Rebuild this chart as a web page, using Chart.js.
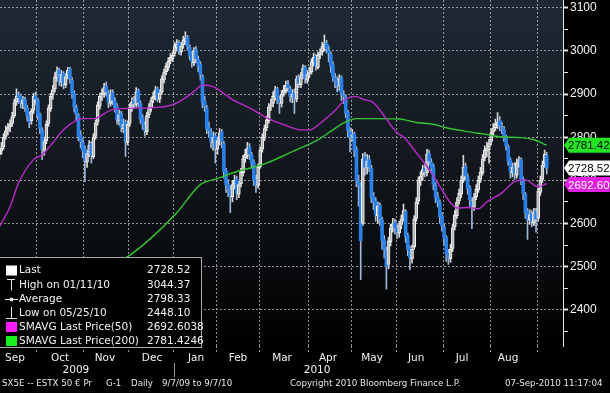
<!DOCTYPE html>
<html><head><meta charset="utf-8">
<script src="https://cdn.jsdelivr.net/npm/chart.js@4.4.1/dist/chart.umd.min.js"></script>
<style>html,body{margin:0;padding:0;background:#000;overflow:hidden}#wrap{position:relative;width:610px;height:393px}</style>
</head><body><div id="wrap"><canvas id="c" width="610" height="393"></canvas></div>
<script>
// ---- DATA (SX5E daily, 9/7/09 .. 9/7/10; index = trading day) ----
const opens = [2760,2768,2778,2802,2816,2824,2832,2850,2882,2898,
2894,2878,2888,2868,2852,2838,2862,2896,2886,2852,
2818,2770,2792,2832,2866,2898,2912,2938,2955,2928,
2948,2922,2942,2958,2932,2902,2868,2850,2805,2788,
2772,2742,2765,2785,2755,2802,2835,2872,2898,2900,
2918,2902,2878,2903,2884,2872,2838,2855,2820,2835,
2788,2832,2868,2885,2876,2908,2878,2845,2828,2812,
2852,2868,2888,2893,2912,2888,2905,2932,2952,2962,
2978,2982,2994,3008,3018,2998,3014,3022,3032,3008,
2992,2972,3003,2980,2968,2940,2884,2868,2822,2812,
2788,2803,2772,2795,2812,2785,2722,2692,2678,2662,
2692,2703,2668,2692,2718,2752,2758,2778,2758,2742,
2702,2688,2732,2772,2798,2822,2838,2872,2878,2892,
2912,2888,2878,2902,2908,2922,2912,2893,2903,2888,
2938,2922,2942,2962,2932,2948,2952,2972,2988,2962,
2992,2998,3008,3018,3002,2992,2968,2938,2932,2918,
2938,2898,2892,2858,2812,2802,2808,2772,2698,2688,
2600,2755,2728,2748,2728,2662,2652,2618,2642,2608,
2562,2538,2505,2558,2592,2602,2588,2578,2598,2612,
2628,2572,2542,2518,2545,2612,2652,2698,2712,2728,
2718,2762,2742,2732,2688,2662,2648,2618,2592,2568,
2532,2518,2542,2592,2618,2652,2668,2702,2732,2708,
2682,2652,2638,2662,2678,2702,2718,2752,2768,2778,
2790,2812,2822,2828,2838,2822,2818,2798,2778,2748,
2718,2732,2712,2742,2748,2702,2668,2628,2608,2622,
2602,2628,2612,2672,2702,2738,2758];
const highs = [2782,2788,2808,2826,2832,2840,2858,2888,2912,2905,
2900,2895,2893,2874,2858,2866,2902,2905,2890,2856,
2822,2800,2838,2875,2902,2920,2950,2963,2960,2955,
2952,2948,2962,2962,2938,2908,2875,2855,2815,2798,
2780,2770,2792,2790,2808,2840,2882,2902,2912,2925,
2928,2908,2910,2910,2892,2878,2862,2860,2842,2840,
2838,2878,2892,2895,2915,2912,2884,2852,2836,2858,
2878,2892,2905,2918,2916,2910,2942,2958,2972,2984,
2994,2998,3020,3026,3024,3020,3034,3044.37,3036,3014,
2998,3008,3010,2988,2975,2945,2895,2874,2835,2820,
2812,2810,2800,2820,2818,2790,2728,2702,2688,2700,
2712,2710,2698,2728,2758,2772,2788,2785,2765,2748,
2712,2738,2778,2808,2828,2848,2878,2888,2905,2918,
2916,2896,2908,2920,2930,2932,2918,2910,2912,2942,
2945,2950,2968,2966,2955,2962,2982,2995,2992,2998,
3005,3020,3037,3025,3012,2998,2975,2948,2940,2945,
2942,2908,2898,2862,2822,2818,2812,2778,2712,2695,
2762,2765,2760,2758,2735,2672,2660,2650,2648,2615,
2572,2545,2568,2598,2612,2610,2598,2605,2620,2645,
2632,2578,2548,2550,2618,2660,2708,2720,2735,2740,
2772,2770,2750,2738,2695,2672,2655,2625,2598,2572,
2540,2552,2598,2630,2660,2680,2710,2758,2740,2715,
2688,2660,2670,2690,2710,2730,2760,2780,2788,2795,
2820,2832,2842,2857,2848,2835,2825,2805,2782,2752,
2740,2742,2750,2755,2752,2708,2672,2635,2632,2630,
2635,2635,2682,2710,2745,2770,2765];
const lows = [2748,2760,2772,2795,2805,2812,2825,2845,2874,2878,
2868,2866,2860,2838,2822,2830,2855,2876,2840,2808,
2748,2758,2785,2825,2860,2888,2905,2930,2920,2918,
2912,2915,2935,2925,2890,2858,2838,2792,2775,2752,
2697,2730,2755,2740,2750,2795,2828,2865,2885,2892,
2895,2868,2872,2875,2858,2830,2828,2812,2810,2755,
2782,2825,2860,2866,2870,2870,2832,2818,2802,2806,
2845,2860,2880,2886,2882,2880,2900,2926,2945,2955,
2970,2975,2988,3000,2992,2990,3006,3015,3002,2980,
2962,2966,2972,2952,2932,2868,2860,2808,2800,2775,
2770,2740,2760,2782,2775,2705,2672,2662,2625,2650,
2680,2655,2660,2685,2710,2742,2750,2748,2728,2688,
2672,2682,2728,2765,2792,2815,2832,2862,2870,2886,
2878,2855,2870,2895,2902,2905,2882,2880,2855,2882,
2915,2915,2935,2925,2925,2938,2946,2965,2955,2958,
2982,2990,3000,2995,2975,2950,2930,2915,2905,2908,
2885,2878,2845,2800,2766,2790,2755,2685,2640,2470,
2595,2712,2715,2720,2648,2632,2605,2600,2595,2540,
2520,2448.1,2495,2548,2580,2575,2565,2568,2588,2605,
2556,2525,2493,2508,2540,2605,2645,2688,2700,2708,
2710,2735,2718,2678,2648,2638,2600,2582,2550,2512,
2505,2510,2535,2585,2612,2645,2660,2695,2700,2668,
2640,2588,2630,2655,2672,2695,2712,2745,2755,2740,
2782,2805,2815,2820,2815,2808,2790,2770,2735,2705,
2708,2702,2705,2730,2690,2655,2612,2563,2598,2592,
2595,2580,2605,2665,2695,2730,2715];
const closes = [2770,2775,2800,2815,2822,2830,2848,2880,2895,2892,
2880,2886,2870,2850,2835,2860,2895,2888,2850,2820,
2772,2790,2830,2868,2895,2910,2940,2952,2930,2946,
2924,2940,2955,2935,2900,2870,2852,2802,2790,2768,
2745,2762,2782,2758,2800,2832,2875,2895,2902,2915,
2905,2880,2900,2886,2870,2840,2852,2822,2830,2790,
2830,2870,2882,2878,2905,2880,2842,2830,2815,2850,
2870,2885,2895,2910,2890,2902,2935,2950,2965,2976,
2985,2990,3010,3016,3000,3012,3025,3030,3010,2990,
2975,3000,2982,2965,2945,2880,2872,2820,2815,2790,
2800,2775,2792,2810,2790,2720,2690,2680,2665,2690,
2700,2670,2690,2720,2750,2760,2775,2760,2740,2700,
2690,2730,2770,2800,2820,2840,2870,2875,2895,2910,
2890,2880,2900,2910,2920,2915,2895,2900,2890,2935,
2925,2940,2960,2935,2945,2950,2975,2985,2965,2990,
2995,3010,3015,3005,2995,2965,2940,2930,2920,2935,
2900,2895,2855,2815,2800,2805,2770,2700,2690,2560,
2750,2730,2745,2730,2660,2650,2620,2640,2610,2560,
2540,2500,2560,2590,2600,2590,2580,2595,2610,2630,
2570,2540,2520,2540,2610,2650,2700,2710,2725,2720,
2760,2745,2730,2690,2660,2650,2615,2595,2565,2530,
2520,2540,2590,2620,2650,2670,2700,2730,2710,2680,
2655,2640,2660,2680,2700,2720,2750,2770,2775,2785,
2810,2820,2830,2835,2825,2820,2800,2780,2745,2720,
2730,2715,2740,2745,2700,2670,2625,2610,2620,2605,
2625,2610,2675,2700,2735,2760,2728.52];

const ma50Days = [0,5,9,16,20,25,30,34,39,44,53,69,81,87,92,95,100,104,109,117,125,133,141,145,151,156,163,167,170,175,181,186,189,195,201,206,211,214,219,224,228,235,241,246,252,256];
const ma50 = [2592,2639,2694,2748,2759,2787,2817,2833,2843,2843,2864,2868,2875,2891,2910,2921,2917,2905,2887,2868,2845,2829,2817,2817,2836,2857,2891,2894,2888,2880,2842,2810,2801,2764,2725,2686,2648,2636,2637,2634,2650,2671,2697,2701,2685,2692.60];
const ma200Days = [0,16,32,47,60,70,83,94,102,109,119,125,135,141,149,156,161,167,175,187,195,203,209,219,228,234,244,250,256];
const ma200 = [2381,2407,2446,2488,2523,2562,2625,2690,2704,2717,2731,2740,2762,2775,2794,2817,2833,2843,2843,2842,2834,2830,2822,2813,2806,2801,2799,2794,2781.42];

// axis labels
const monthLabels = ['Sep','Oct','Nov','Dec','Jan','Feb','Mar','Apr','May','Jun','Jul','Aug'];
const monthLabelPos = [7.3,28.4,49.4,71.4,92,111.6,132.2,153.7,174.3,194.9,216.4,237.9];
const monthBoundaries = [17.5,39.5,60.5,81.5,101.5,121.5,144.5,164.5,185.5,207.5,229.5,251.5];
const yearLabels = ['2009','2010'];
const yearLabelPos = [35.8,148.6];
const yearSeparator = 81.5;
const yTickValues = [2350,2400,2450,2500,2550,2600,2650,2700,2750,2800,2850,2900,2950,3000,3050,3100];

// legend texts
const legendLabels = ['Last','High on 01/11/10','Average','Low on 05/25/10','SMAVG Last Price(50)','SMAVG Last Price(200)'];
const legendValues = ['2728.52','3044.37','2798.33','2448.10','2692.6038','2781.4246'];
const footerTexts = ['SX5E -- ESTX 50 \u20ac Pr','G-1','Daily','9/7/09 to 9/7/10','Copyright 2010 Bloomberg Finance L.P.','07-Sep-2010 11:17:04'];

// ---- STYLE ----
const BLUE = '#2b80e6', UPFILL = '#b4b4b4', UPEDGE = '#f4f4f4';
const MAG_LINE = '#b92ccb', GRN_LINE = '#33c433';
const GRID = 'rgba(180,180,180,0.8)';
const isDown = i => closes[i] < opens[i];

const candleIdx = closes.map((_, i) => i);

const bg = {
  id: 'bg',
  beforeDraw(chart) {
    const {ctx, chartArea: a} = chart;
    ctx.save();
    ctx.fillStyle = '#000'; ctx.fillRect(0, 0, chart.width, chart.height);
    const g = ctx.createLinearGradient(0, a.top, 0, a.bottom);
    g.addColorStop(0, '#1f2935'); g.addColorStop(0.5, '#11161c'); g.addColorStop(1, '#000000');
    ctx.fillStyle = g; ctx.fillRect(a.left, a.top, a.right - a.left, a.bottom - a.top);
    ctx.restore();
  }
};

function tag(ctx, x0, x1, y, text, bgc, fg) {
  const h = 15;
  ctx.beginPath();
  ctx.moveTo(x0, y); ctx.lineTo(x0 + 5, y - h / 2); ctx.lineTo(x1, y - h / 2);
  ctx.lineTo(x1, y + h / 2); ctx.lineTo(x0 + 5, y + h / 2); ctx.closePath();
  ctx.fillStyle = bgc; ctx.fill();
  ctx.fillStyle = fg; ctx.textAlign = 'left'; ctx.textBaseline = 'middle';
  ctx.font = '11.5px "Liberation Sans", Arial, sans-serif';
  ctx.fillText(text, x0 + 4, y + 1);
}

const overlay = {
  id: 'overlay',
  afterDraw(chart) {
    const {ctx, chartArea: a, scales} = chart;
    const xs = scales.x, ys = scales.y;
    ctx.save();
    // legend box
    const L = {x: 0, y: 257, w: 202, h: 90};
    ctx.fillStyle = '#000'; ctx.fillRect(L.x, L.y, L.w, L.h);
    ctx.strokeStyle = '#a8a8a8'; ctx.lineWidth = 1;
    ctx.strokeRect(L.x - 1 + 0.5, L.y + 0.5, L.w, L.h);
    const rows = [270.5, 285, 299, 313, 327, 341];
    ctx.font = '10.5px "DejaVu Sans", sans-serif';
    ctx.textBaseline = 'middle'; ctx.textAlign = 'left';
    rows.forEach((ry, k) => {
      ctx.fillStyle = '#f2f2f2';
      ctx.fillText(legendLabels[k], 19, ry);
      ctx.fillText(legendValues[k], 147, ry);
    });
    // icons
    ctx.fillStyle = '#ffffff'; ctx.fillRect(6, rows[0] - 5, 11, 10);
    ctx.strokeStyle = '#e8e8e8'; ctx.lineWidth = 1;
    ctx.beginPath(); ctx.moveTo(7, rows[1] - 5.5); ctx.lineTo(15, rows[1] - 5.5);
    ctx.moveTo(11.5, rows[1] - 5.5); ctx.lineTo(11.5, rows[1] + 5.5); ctx.stroke();
    ctx.beginPath(); ctx.moveTo(5, rows[2] + 0.5); ctx.lineTo(18, rows[2] + 0.5); ctx.stroke();
    ctx.beginPath(); ctx.arc(11.5, rows[2] + 0.5, 2, 0, Math.PI * 2); ctx.fillStyle = '#e8e8e8'; ctx.fill();
    ctx.beginPath(); ctx.moveTo(11.5, rows[3] - 6); ctx.lineTo(11.5, rows[3] + 5.5);
    ctx.moveTo(6, rows[3] + 5.5); ctx.lineTo(17, rows[3] + 5.5); ctx.stroke();
    ctx.fillStyle = '#ff1cff'; ctx.fillRect(6, rows[4] - 5, 11, 10);
    ctx.fillStyle = '#1cf01c'; ctx.fillRect(6, rows[5] - 5, 11, 10);

    // right-hand value tags
    const x0 = a.right + 1, x1 = chart.width;
    tag(ctx, x0, x1, ys.getPixelForValue(ma200[ma200.length - 1]), ma200[ma200.length - 1].toFixed(2), '#22e622', '#000');
    tag(ctx, x0, x1, ys.getPixelForValue(closes[closes.length - 1]), closes[closes.length - 1].toFixed(2), '#ffffff', '#000');
    tag(ctx, x0, x1, ys.getPixelForValue(ma50[ma50.length - 1]) + 1, ma50[ma50.length - 1].toFixed(2), '#e21ee2', '#ffffff');

    // year labels + separator
    ctx.fillStyle = '#f2f2f2'; ctx.textAlign = 'center';
    ctx.font = '10.5px "DejaVu Sans", sans-serif';
    yearLabels.forEach((t, k) => ctx.fillText(t, xs.getPixelForValue(yearLabelPos[k]), 370));
    const sx = Math.round(xs.getPixelForValue(yearSeparator)) + 0.5;
    ctx.strokeStyle = '#9a9a9a'; ctx.beginPath(); ctx.moveTo(sx, 363); ctx.lineTo(sx, 377); ctx.stroke();

    // footer
    ctx.font = '8.7px "DejaVu Sans", sans-serif'; ctx.textAlign = 'left';
    ctx.fillStyle = '#e6e6e6';
    const fx = [2, 106, 131, 162, 290, 505];
    footerTexts.forEach((t, k) => ctx.fillText(t, fx[k], 384));
    ctx.restore();
  }
};

const kind = i => isDown(i) ? 'down' : 'up';

new Chart(document.getElementById('c'), {
  type: 'bar',
  data: {
    datasets: [
      {
        type: 'line', label: 'SMAVG(50)', order: 0,
        data: ma50Days.map((d, k) => ({x: d, y: ma50[k]})),
        borderColor: MAG_LINE, borderWidth: 1.4, pointRadius: 0, tension: 0.4, cubicInterpolationMode: 'monotone', fill: false
      },
      {
        type: 'line', label: 'SMAVG(200)', order: 1,
        data: ma200Days.map((d, k) => ({x: d, y: ma200[k]})),
        borderColor: GRN_LINE, borderWidth: 1.4, pointRadius: 0, tension: 0.4, cubicInterpolationMode: 'monotone', fill: false
      },
      {
        label: 'body', order: 2, grouped: false,
        data: candleIdx.map(i => ({x: i, y: [opens[i], closes[i]]})),
        barThickness: 3, borderSkipped: false,
        backgroundColor: c => kind(c.dataIndex) === 'down' ? BLUE : UPFILL,
        borderColor: c => kind(c.dataIndex) === 'down' ? BLUE : UPEDGE,
        borderWidth: c => kind(c.dataIndex) === 'down' ? 0 : 1
      },
      {
        label: 'wick', order: 3, grouped: false,
        data: candleIdx.map(i => ({x: i, y: [lows[i], highs[i]]})),
        barThickness: 1, borderWidth: 0,
        backgroundColor: c => kind(c.dataIndex) === 'down' ? '#9fb8d8' : '#d8d8d8'
      }
    ]
  },
  options: {
    responsive: false, animation: false, devicePixelRatio: 1,
    layout: {padding: 0},
    plugins: {legend: {display: false}, tooltip: {enabled: false}},
    events: [],
    scales: {
      x: {
        type: 'linear', min: 0.3, max: 263.6, offset: false,
        afterBuildTicks: s => { s.ticks = monthLabelPos.concat(monthBoundaries).map(v => ({value: v})); },
        afterFit: s => { s.height = 47; s.paddingLeft = 0; s.paddingRight = 0; },
        ticks: {
          autoSkip: false, maxRotation: 0, minRotation: 0, padding: 0, color: '#f2f2f2',
          font: {family: 'DejaVu Sans', size: 10.5},
          callback: v => { const k = monthLabelPos.indexOf(v); return k >= 0 ? monthLabels[k] : ''; }
        },
        grid: {
          offset: false, lineWidth: 1, tickLength: 6,
          color: c => (c.tick && monthBoundaries.includes(c.tick.value)) ? GRID : 'rgba(0,0,0,0)',
          tickColor: c => (c.tick && monthBoundaries.includes(c.tick.value)) ? GRID : 'rgba(0,0,0,0)',
          tickBorderDash: [2, 2]
        },
        border: {display: false, dash: [2, 2]}
      },
      y: {
        type: 'linear', position: 'right', min: 2316, max: 3118,
        afterBuildTicks: s => { s.ticks = yTickValues.map(v => ({value: v})); },
        afterFit: s => { s.width = 47; s.paddingTop = 0; s.paddingBottom = 0; },
        ticks: {
          padding: 2, color: '#f4f4f4', font: {family: 'Liberation Sans', size: 12},
          callback: v => (v % 100 === 0 ? String(v) : '')
        },
        grid: {
          lineWidth: 1, tickLength: 5,
          color: c => (c.tick && c.tick.value % 100 === 0) ? GRID : 'rgba(0,0,0,0)',
          tickColor: '#e8e8e8',
          tickWidth: c => (c.tick && c.tick.value % 100 === 0) ? 2 : 1
        },
        border: {display: true, color: '#e8e8e8', width: 1, dash: [2, 2]}
      }
    }
  },
  plugins: [bg, overlay]
});
</script>
</body></html>
